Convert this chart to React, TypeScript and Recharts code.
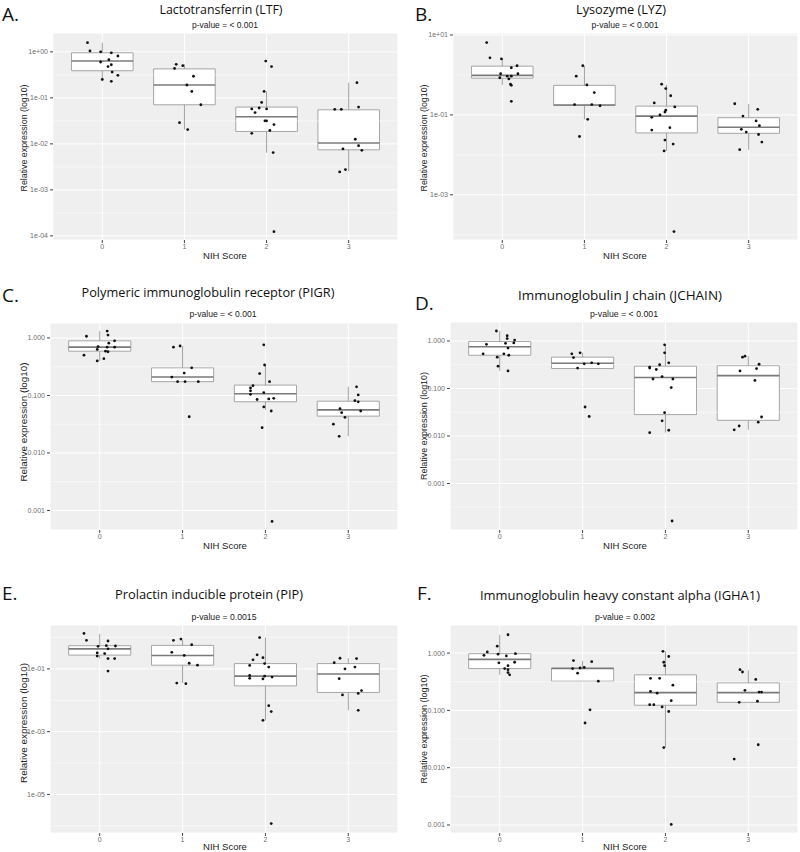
import React from "react";
import {
  ComposedChart,
  XAxis,
  YAxis,
  CartesianGrid,
  Scatter,
  ReferenceArea,
  ReferenceLine,
} from "recharts";

// NIH score groups (x axis)
const groups = [0, 1, 2, 3];

// All values below are log10(relative expression).
// Box stats per group: [whiskerLow, q1, median, q3, whiskerHigh]
// Points: [jittered x, log10 value]

// A. Lactotransferrin (LTF)
const ltfBoxes = [
  [-0.64, -0.41, -0.2, -0.02, 0.2],
  [-1.69, -1.15, -0.72, -0.37, -0.27],
  [-2.19, -1.73, -1.41, -1.2, -0.86],
  [-2.59, -2.13, -1.98, -1.26, -0.67],
];
const ltfPoints = [
  [-0.18, 0.2], [-0.15, 0.02], [-0.02, 0.0], [0.11, -0.02], [0.19, -0.09], [0.08, -0.17], [-0.02, -0.22],
  [0.11, -0.28], [0.07, -0.32], [0.12, -0.44], [0.19, -0.51], [0.0, -0.6], [0.11, -0.64],
  [0.9, -0.27], [0.88, -0.36], [0.98, -0.3], [1.11, -0.53], [1.03, -0.72], [1.09, -0.86], [1.2, -1.15],
  [0.94, -1.54], [1.04, -1.69],
  [1.99, -0.2], [2.06, -0.32], [1.97, -0.86], [1.94, -1.1], [1.82, -1.24], [1.91, -1.22], [2.0, -1.24],
  [1.86, -1.32], [1.98, -1.5], [2.0, -1.5], [2.09, -1.58], [2.04, -1.71], [1.82, -1.77], [2.08, -2.19], [2.09, -3.91],
  [3.1, -0.67], [3.12, -1.2], [2.83, -1.25], [2.91, -1.25], [3.08, -1.9], [3.12, -2.04], [2.93, -2.11],
  [3.16, -2.14], [2.96, -2.56], [2.89, -2.61],
];
const ltfTicks = [0, -1, -2, -3, -4];
const ltfTickLabels = ["1e+00", "1e-01", "1e-02", "1e-03", "1e-04"];

// B. Lysozyme (LYZ)
const lyzBoxes = [
  [-0.25, -0.08, -0.01, 0.22, 0.4],
  [-1.11, -0.76, -0.75, -0.26, 0.23],
  [-1.9, -1.45, -1.03, -0.78, -0.25],
  [-1.87, -1.46, -1.31, -1.07, -0.73],
];
const lyzPoints = [
  [-0.19, 0.81], [-0.15, 0.43], [-0.01, 0.4], [0.18, 0.23], [0.11, 0.18], [0.19, 0.03], [-0.02, 0.03],
  [0.06, -0.03], [0.11, -0.03], [-0.03, -0.07], [0.08, -0.1], [0.1, -0.23], [0.11, -0.26], [0.11, -0.66],
  [0.98, 0.23], [0.9, -0.03], [1.03, -0.25], [1.12, -0.44], [0.88, -0.74], [1.09, -0.74], [1.19, -0.77],
  [1.04, -1.11], [0.94, -1.54],
  [1.94, -0.23], [1.99, -0.34], [2.05, -0.52], [1.85, -0.7], [2.1, -0.8], [1.99, -0.88], [1.98, -0.93],
  [1.92, -1.0], [1.82, -1.06], [2.04, -1.32], [1.82, -1.38], [1.98, -1.63], [2.08, -1.73], [1.97, -1.9], [2.09, -3.92],
  [2.83, -0.72], [3.11, -0.86], [2.93, -1.03], [3.09, -1.15], [3.13, -1.27], [2.91, -1.36], [2.97, -1.43],
  [3.12, -1.49], [3.16, -1.68], [2.89, -1.87],
];
const lyzTicks = [1, -1, -3];
const lyzTickLabels = ["1e+01", "1e-01", "1e-03"];

// C. Polymeric immunoglobulin receptor (PIGR)
const pigrBoxes = [
  [-0.4, -0.23, -0.16, -0.05, 0.12],
  [-0.76, -0.76, -0.68, -0.52, -0.14],
  [-1.25, -1.11, -0.97, -0.82, -0.47],
  [-1.71, -1.36, -1.25, -1.1, -0.85],
];
const pigrPoints = [
  [0.09, 0.12], [0.1, 0.05], [-0.16, 0.03], [0.18, -0.05], [0.11, -0.09], [-0.02, -0.15], [0.18, -0.16],
  [0.09, -0.16], [-0.03, -0.2], [0.07, -0.23], [0.1, -0.24], [-0.19, -0.3], [0.05, -0.36], [-0.03, -0.4],
  [0.97, -0.14], [0.89, -0.16], [1.11, -0.52], [1.02, -0.61], [0.87, -0.68], [0.94, -0.76], [1.03, -0.76],
  [1.19, -0.76], [1.08, -1.37],
  [1.98, -0.12], [1.99, -0.47], [1.93, -0.62], [2.05, -0.76], [1.85, -0.83], [1.82, -0.87], [1.82, -0.92],
  [1.82, -0.98], [1.98, -0.95], [1.9, -1.07], [2.04, -1.06], [2.1, -1.05], [1.98, -1.2], [2.07, -1.27],
  [1.96, -1.56], [2.08, -3.19],
  [3.1, -0.85], [3.12, -0.99], [3.08, -1.09], [3.12, -1.11], [2.9, -1.23], [3.15, -1.27], [2.92, -1.3],
  [2.96, -1.38], [2.82, -1.5], [2.89, -1.71],
];
const decimalTicks = [0, -1, -2, -3];
const decimalTickLabels = ["1.000", "0.100", "0.010", "0.001"];

// D. Immunoglobulin J chain (JCHAIN)
const jchainBoxes = [
  [-0.63, -0.3, -0.12, -0.01, 0.21],
  [-0.58, -0.58, -0.47, -0.34, -0.25],
  [-1.93, -1.55, -0.77, -0.53, -0.08],
  [-1.87, -1.67, -0.73, -0.52, -0.32],
];
const jchainPoints = [
  [-0.04, 0.21], [0.09, 0.11], [0.18, 0.02], [0.09, 0.05], [0.17, -0.04], [0.07, -0.05], [-0.16, -0.07],
  [0.1, -0.15], [-0.2, -0.27], [0.05, -0.27], [0.11, -0.3], [-0.03, -0.34], [-0.02, -0.53], [0.1, -0.63],
  [0.97, -0.25], [0.87, -0.27], [0.89, -0.35], [1.11, -0.46], [1.02, -0.48], [1.19, -0.48], [0.94, -0.57],
  [1.03, -1.39], [1.08, -1.59],
  [1.99, -0.08], [1.99, -0.25], [2.04, -0.46], [1.93, -0.5], [1.81, -0.55], [1.81, -0.57], [1.89, -0.6],
  [1.96, -0.75], [1.85, -0.8], [2.09, -0.8], [2.07, -0.98], [1.99, -1.51], [1.96, -1.68], [2.04, -1.88],
  [1.81, -1.93], [2.08, -3.79],
  [2.96, -0.32], [2.93, -0.34], [3.13, -0.49], [3.1, -0.58], [2.9, -0.63], [3.08, -0.83], [3.16, -1.6],
  [3.12, -1.71], [2.89, -1.79], [2.83, -1.87],
];

// E. Prolactin inducible protein (PIP)
const pipBoxes = [
  [-0.67, -0.56, -0.36, -0.26, 0.12],
  [-1.45, -0.88, -0.57, -0.25, -0.07],
  [-2.64, -1.54, -1.23, -0.83, 0.0],
  [-2.32, -1.75, -1.16, -0.83, -0.66],
];
const pipPoints = [
  [-0.19, 0.13], [-0.16, -0.09], [0.1, -0.11], [0.08, -0.26], [0.19, -0.27], [-0.02, -0.28], [0.1, -0.36],
  [-0.03, -0.49], [0.06, -0.51], [-0.03, -0.59], [0.18, -0.67], [0.1, -0.67], [0.1, -1.07],
  [0.89, -0.09], [0.98, -0.05], [1.11, -0.23], [0.87, -0.47], [1.02, -0.57], [1.08, -0.82], [1.18, -0.88],
  [0.93, -1.45], [1.04, -1.47],
  [1.93, 0.0], [1.9, -0.55], [1.97, -0.64], [1.85, -0.71], [1.99, -0.83], [1.81, -0.89], [2.04, -0.94],
  [1.81, -1.21], [1.81, -1.3], [1.99, -1.23], [2.08, -1.26], [1.97, -1.32], [2.04, -2.17], [2.07, -2.36],
  [1.97, -2.64], [2.07, -5.93],
  [2.9, -0.66], [3.1, -0.67], [2.83, -0.8], [3.08, -0.94], [2.96, -1.0], [2.89, -1.31], [3.16, -1.69],
  [3.12, -1.78], [2.93, -1.83], [3.12, -2.32],
];
const pipTicks = [-1, -3, -5];
const pipTickLabels = ["1e-01", "1e-03", "1e-05"];

// F. Immunoglobulin heavy constant alpha (IGHA1)
const ighaBoxes = [
  [-0.38, -0.27, -0.11, -0.01, 0.32],
  [-0.49, -0.49, -0.27, -0.26, -0.14],
  [-1.65, -0.91, -0.69, -0.38, 0.03],
  [-0.86, -0.86, -0.69, -0.52, -0.3],
];
const ighaPoints = [
  [0.1, 0.32], [-0.03, 0.12], [-0.15, 0.02], [0.19, -0.01], [-0.02, -0.02], [-0.19, -0.04], [0.08, -0.05],
  [-0.01, -0.17], [0.18, -0.16], [0.1, -0.22], [0.06, -0.27], [0.1, -0.29], [0.1, -0.34], [0.12, -0.38],
  [0.89, -0.13], [1.11, -0.15], [0.88, -0.27], [0.97, -0.26], [1.02, -0.25], [0.94, -0.35], [1.19, -0.49],
  [1.09, -0.99], [1.03, -1.22],
  [1.97, 0.03], [2.04, -0.06], [1.98, -0.16], [1.99, -0.22], [1.82, -0.44], [1.93, -0.44], [2.09, -0.56],
  [1.82, -0.67], [1.9, -0.7], [1.81, -0.9], [1.86, -0.9], [1.96, -0.94], [2.07, -0.83], [2.04, -1.02],
  [1.98, -1.65], [2.07, -2.99],
  [2.9, -0.29], [2.93, -0.33], [3.09, -0.46], [2.96, -0.65], [3.13, -0.68], [3.16, -0.68], [2.89, -0.86],
  [3.11, -0.84], [3.12, -1.6], [2.83, -1.85],
];

const AXIS_FONT = "'Liberation Sans', Arial, sans-serif";
const TITLE_FONT = "'Open Sans', 'Noto Sans', sans-serif";
const BOX_HALF = 0.375;
const TICK_STYLE = { fontSize: 7, fill: "#6e6e6e", stroke: "none", fontFamily: AXIS_FONT };

type PanelProps = {
  left: number;
  top: number;
  height: number;
  margin: { top: number; right: number; bottom: number; left: number };
  domain: [number, number];
  ticks: number[];
  tickLabels: string[];
  minor: number[];
  boxes: number[][];
  points: number[][];
};

const Dot = (p: any) => <circle cx={p.cx} cy={p.cy} r={1.4} fill="#111" />;

function Panel({ left, top, height, margin, domain, ticks, tickLabels, minor, boxes, points }: PanelProps) {
  const data = points.map(([x, y]) => ({ x, y }));
  return (
    <div style={{ position: "absolute", left, top, width: 400, height }}>
      <ComposedChart width={400} height={height} margin={margin}>
        <CartesianGrid fill="#EFEFEF" stroke="#FFFFFF" strokeWidth={1} />
        <XAxis
          type="number"
          dataKey="x"
          domain={[-0.6, 3.6]}
          ticks={groups}
          allowDataOverflow
          interval={0}
          height={14}
          tickSize={3}
          tickMargin={1}
          axisLine={false}
          tickLine={{ stroke: "#444" }}
          tick={TICK_STYLE}
        />
        <YAxis
          type="number"
          dataKey="y"
          domain={domain}
          ticks={ticks}
          allowDataOverflow
          interval={0}
          width={42}
          tickSize={3}
          tickMargin={2}
          axisLine={false}
          tickLine={{ stroke: "#444" }}
          tick={TICK_STYLE}
          tickFormatter={(v: number) => tickLabels[ticks.indexOf(v)] ?? ""}
        />
        {minor.map((m) => (
          <ReferenceLine key={`m${m}`} y={m} stroke="#FFFFFF" strokeWidth={0.5} />
        ))}
        {boxes.map((b, i) => (
          <ReferenceLine
            key={`wh${i}`}
            segment={[{ x: groups[i], y: b[3] }, { x: groups[i], y: b[4] }]}
            stroke="#a0a0a0"
            strokeWidth={1}
          />
        ))}
        {boxes.map((b, i) => (
          <ReferenceLine
            key={`wl${i}`}
            segment={[{ x: groups[i], y: b[0] }, { x: groups[i], y: b[1] }]}
            stroke="#a0a0a0"
            strokeWidth={1}
          />
        ))}
        {boxes.map((b, i) => (
          <ReferenceArea
            key={`b${i}`}
            x1={groups[i] - BOX_HALF}
            x2={groups[i] + BOX_HALF}
            y1={b[1]}
            y2={b[3]}
            fill="#FFFFFF"
            fillOpacity={1}
            stroke="#a6a6a6"
            strokeWidth={1}
          />
        ))}
        {boxes.map((b, i) => (
          <ReferenceLine
            key={`md${i}`}
            segment={[{ x: groups[i] - BOX_HALF, y: b[2] }, { x: groups[i] + BOX_HALF, y: b[2] }]}
            stroke="#7a7a7a"
            strokeWidth={1.6}
          />
        ))}
        <Scatter data={data} isAnimationActive={false} shape={Dot} />
      </ComposedChart>
    </div>
  );
}

type Label = {
  letter: string; lx: number; ly: number;
  title: string; tx: number; ty: number; tw: number;
  pval: string; px: number; py: number; pw: number;
  yx: number; yy: number; yw: number;
  xx: number; xy: number;
};

const labels: Label[] = [
  { letter: "A.", lx: 2, ly: 21, title: "Lactotransferrin (LTF)", tx: 221, ty: 14, tw: 123,
    pval: "p-value = < 0.001", px: 225, py: 28, pw: 66, yx: 27, yy: 138, yw: 107, xx: 225, xy: 259 },
  { letter: "B.", lx: 415, ly: 21, title: "Lysozyme (LYZ)", tx: 621, ty: 14, tw: 90,
    pval: "p-value = < 0.001", px: 625, py: 28, pw: 67, yx: 427, yy: 138, yw: 107, xx: 625, xy: 259 },
  { letter: "C.", lx: 2, ly: 302, title: "Polymeric immunoglobulin receptor (PIGR)", tx: 208, ty: 297, tw: 253,
    pval: "p-value = < 0.001", px: 223, py: 317, pw: 67, yx: 27, yy: 422, yw: 119, xx: 225, xy: 549 },
  { letter: "D.", lx: 415, ly: 310, title: "Immunoglobulin J  chain (JCHAIN)", tx: 620, ty: 300, tw: 204,
    pval: "p-value = < 0.001", px: 624, py: 317, pw: 68, yx: 427, yy: 426, yw: 108, xx: 625, xy: 549 },
  { letter: "E.", lx: 2, ly: 600, title: "Prolactin inducible protein (PIP)", tx: 209, ty: 599, tw: 188,
    pval: "p-value = 0.0015", px: 224, py: 620, pw: 65, yx: 27, yy: 723, yw: 120, xx: 225, xy: 850 },
  { letter: "F.", lx: 417, ly: 600, title: "Immunoglobulin heavy constant alpha (IGHA1)", tx: 620, ty: 600, tw: 280,
    pval: "p-value = 0.002", px: 625, py: 620, pw: 60, yx: 427, yy: 729, yw: 109, xx: 625, xy: 850 },
];

export default function App() {
  return (
    <div style={{ position: "absolute", left: 0, top: 0, width: 800, height: 852, background: "#fff" }}>
      <Panel left={0} top={0} height={280} margin={{ top: 33, right: 2, bottom: 26, left: 11 }}
        domain={[-4.09, 0.41]} ticks={ltfTicks} tickLabels={ltfTickLabels}
        minor={[-0.5, -1.5, -2.5, -3.5]} boxes={ltfBoxes} points={ltfPoints} />
      <Panel left={400} top={0} height={280} margin={{ top: 33, right: 2, bottom: 26, left: 11 }}
        domain={[-4.13, 1.05]} ticks={lyzTicks} tickLabels={lyzTickLabels}
        minor={[0, -2, -4]} boxes={lyzBoxes} points={lyzPoints} />
      <Panel left={0} top={280} height={280} margin={{ top: 43, right: 2, bottom: 16, left: 8 }}
        domain={[-3.34, 0.26]} ticks={decimalTicks} tickLabels={decimalTickLabels}
        minor={[-0.5, -1.5, -2.5]} boxes={pigrBoxes} points={pigrPoints} />
      <Panel left={400} top={280} height={280} margin={{ top: 42, right: 2, bottom: 16, left: 8 }}
        domain={[-3.98, 0.4]} ticks={decimalTicks} tickLabels={decimalTickLabels}
        minor={[-0.5, -1.5, -2.5, -3.5]} boxes={jchainBoxes} points={jchainPoints} />
      <Panel left={0} top={560} height={292} margin={{ top: 65, right: 2, bottom: 5, left: 8 }}
        domain={[-6.23, 0.4]} ticks={pipTicks} tickLabels={pipTickLabels}
        minor={[0, -2, -4, -6]} boxes={pipBoxes} points={pipPoints} />
      <Panel left={400} top={560} height={292} margin={{ top: 65, right: 2, bottom: 5, left: 8 }}
        domain={[-3.14, 0.49]} ticks={decimalTicks} tickLabels={decimalTickLabels}
        minor={[-0.5, -1.5, -2.5]} boxes={ighaBoxes} points={ighaPoints} />

      <svg width={800} height={852} style={{ position: "absolute", left: 0, top: 0, pointerEvents: "none" }}>
        {labels.map((l) => (
          <g key={l.letter}>
            <text x={l.lx} y={l.ly} fontFamily={TITLE_FONT} fontSize={19} fill="#111">{l.letter}</text>
            <text x={l.tx} y={l.ty} textAnchor="middle" fontFamily={TITLE_FONT} fontSize={13.5} fill="#111"
              textLength={l.tw} lengthAdjust="spacingAndGlyphs">{l.title}</text>
            <text x={l.px} y={l.py} textAnchor="middle" fontFamily={AXIS_FONT} fontSize={9} fill="#222"
              textLength={l.pw} lengthAdjust="spacingAndGlyphs">{l.pval}</text>
            <text x={l.yx} y={l.yy} textAnchor="middle" fontFamily={AXIS_FONT} fontSize={9.5} fill="#222"
              transform={`rotate(-90 ${l.yx} ${l.yy})`} textLength={l.yw} lengthAdjust="spacingAndGlyphs">
              Relative expression (log10)
            </text>
            <text x={l.xx} y={l.xy} textAnchor="middle" fontFamily={AXIS_FONT} fontSize={9.5} fill="#222">
              NIH Score
            </text>
          </g>
        ))}
      </svg>
    </div>
  );
}
